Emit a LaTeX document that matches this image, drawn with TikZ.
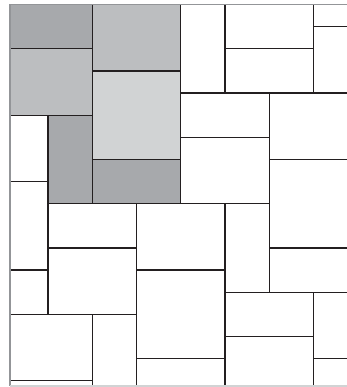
\documentclass[tikz,border=0pt]{standalone}
\usepackage{tikz}
\definecolor{tileD}{HTML}{A7A9AC}
\definecolor{tileM}{HTML}{BCBEC0}
\definecolor{tileL}{HTML}{D1D3D4}
\definecolor{joint}{HTML}{231F20}
\definecolor{rimc}{HTML}{939598}
\tikzset{
  tile/.style={draw=joint, line width=1.1pt, fill=white},
  rim/.style={draw=rimc, line width=1.1pt},
}

\begin{document}
\begin{tikzpicture}[x=1.3278cm, y=-0.6639cm]
  \useasboundingbox (-0.0845,-0.203) rectangle (7.733,17.284);

  % paving, cut to the frame
  \begin{scope}
    \clip (0.1414,0) rectangle (7.9,17.24);
    % plain slabs
    \foreach \xa/\ya/\xb/\yb in {0/5/1/8, 0/8/1/12, 0/12/1/14,
        4/0/5/4, 5/0/7/2, 5/2/7/4, 7/0/8/1, 7/1/8/4,
        4/4/6/6, 6/4/8/7, 4/6/6/9, 6/7/8/11, 6/11/8/13,
        1/9/3/11, 1/11/3/14, 3/9/5/12, 3/12/5/16, 3/16/5/18,
        5/9/6/13, 0/14/2/17, 0/17/2/18, 2/14/3/18,
        5/13/7/15, 5/15/7/18, 7/13/8/16, 7/16/8/18}
      \draw[tile] (\xa,\ya) rectangle (\xb,\yb);
    % tinted slabs
    \foreach \xa/\ya/\xb/\yb/\tint in {0/0/2/2/tileD, 1/5/2/9/tileD, 2/7/4/9/tileD,
        0/2/2/5/tileM, 2/0/4/3/tileM, 2/3/4/7/tileL}
      \draw[tile, fill=\tint] (\xa,\ya) rectangle (\xb,\yb);
  \end{scope}

  % frame
  \draw[rim] (7.9,0) -- (0.1414,0) -- (0.1414,17.24);
  \draw[rim, draw=tileL] (0.1414,17.24) -- (7.9,17.24);
\end{tikzpicture}
\end{document}
